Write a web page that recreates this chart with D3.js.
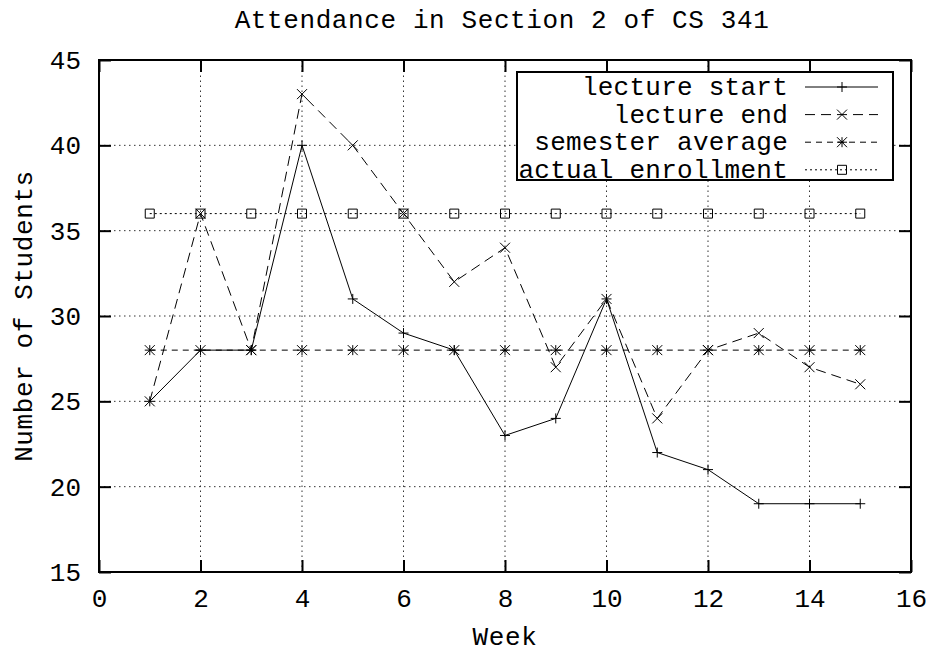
<!DOCTYPE html>
<html>
<head>
<meta charset="utf-8">
<script src="https://cdn.jsdelivr.net/npm/d3@7"></script>
<style>
  html, body { margin: 0; padding: 0; background: #fff; }
  svg { display: block; }
  text { font-family: "Liberation Mono", "DejaVu Sans Mono", monospace; fill: #000; }
  .lbl { letter-spacing: 0.6px; }
  .leg { letter-spacing: 0.25px; }
</style>
</head>
<body>
<div id="chart"></div>
<script>
// ---- data ----
const weeks = [1, 2, 3, 4, 5, 6, 7, 8, 9, 10, 11, 12, 13, 14, 15];
const lectureStart = [25, 28, 28, 40, 31, 29, 28, 23, 24, 31, 22, 21, 19, 19, 19];
const lectureEnd = [25, 36, 28, 43, 40, 36, 32, 34, 27, 31, 24, 28, 29, 27, 26];
const semesterAverage = [28, 28, 28, 28, 28, 28, 28, 28, 28, 28, 28, 28, 28, 28, 28];
const actualEnrollment = [36, 36, 36, 36, 36, 36, 36, 36, 36, 36, 36, 36, 36, 36, 36];
const seriesNames = ["lecture start", "lecture end", "semester average", "actual enrollment"];
const xTicks = [0, 2, 4, 6, 8, 10, 12, 14, 16];
const yTicks = [15, 20, 25, 30, 35, 40, 45];
const titleText = "Attendance in Section 2 of CS 341";
const xLabel = "Week";
const yLabel = "Number of Students";

// ---- layout ----
const W = 926, H = 653;
const L = 99, R = 911, T = 60, B = 572;
const FS = 26;

const svg = d3.select("#chart").append("svg").attr("width", W).attr("height", H);
svg.append("rect").attr("width", W).attr("height", H).attr("fill", "#fff");

const x = d3.scaleLinear().domain([0, 16]).range([L, R]);
const y = d3.scaleLinear().domain([15, 45]).range([B, T]);

// grid
const grid = svg.append("g").attr("stroke", "#333").attr("stroke-width", 1).attr("stroke-dasharray", "1.5,3.5");
grid.selectAll("line.v").data(xTicks.filter(d => d > 0 && d < 16)).join("line")
  .attr("class", "v")
  .attr("x1", d => x(d)).attr("x2", d => x(d)).attr("y1", y(15)).attr("y2", y(45));
grid.selectAll("line.h").data(yTicks.filter(d => d > 15 && d < 45)).join("line")
  .attr("class", "h")
  .attr("y1", d => y(d)).attr("y2", d => y(d)).attr("x1", x(0)).attr("x2", x(16));

// series
const series = [
  { name: seriesNames[0], values: lectureStart, dash: null, marker: "plus" },
  { name: seriesNames[1], values: lectureEnd, dash: "10,6", marker: "cross" },
  { name: seriesNames[2], values: semesterAverage, dash: "6,5", marker: "star" },
  { name: seriesNames[3], values: actualEnrollment, dash: "2,3", marker: "box" }
];

function markerPath(type, cx, cy) {
  const s = 5;
  const p = d3.path();
  if (type === "plus" || type === "star") {
    p.moveTo(cx - s, cy); p.lineTo(cx + s, cy);
    p.moveTo(cx, cy - s); p.lineTo(cx, cy + s);
  }
  if (type === "cross" || type === "star") {
    p.moveTo(cx - s, cy - s); p.lineTo(cx + s, cy + s);
    p.moveTo(cx - s, cy + s); p.lineTo(cx + s, cy - s);
  }
  if (type === "box") {
    const b = 4.5;
    p.rect(cx - b, cy - b, 2 * b, 2 * b);
  }
  return p.toString();
}

const line = d3.line().x(d => x(d[0])).y(d => y(d[1]));
series.forEach(s => {
  const pts = weeks.map((w, i) => [w, s.values[i]]);
  svg.append("path").datum(pts).attr("d", line)
    .attr("fill", "none").attr("stroke", "#000").attr("stroke-width", 1)
    .attr("stroke-dasharray", s.dash);
  svg.append("g").selectAll("path").data(pts).join("path")
    .attr("d", d => markerPath(s.marker, x(d[0]), y(d[1])))
    .attr("fill", "none").attr("stroke", "#000").attr("stroke-width", 1);
});

// axes (ticks inward on all sides)
function styleAxis(g) {
  g.select(".domain").remove();
  g.selectAll(".tick line").attr("stroke", "#000").attr("stroke-width", 2);
  g.selectAll("text").attr("font-size", FS).attr("font-family", null);
}
const xb = svg.append("g").attr("transform", `translate(0,${B})`)
  .call(d3.axisBottom(x).tickValues(xTicks).tickSize(-12).tickSizeOuter(0).tickFormat(d3.format("d")));
styleAxis(xb);
xb.selectAll("text").attr("y", 35).attr("dy", null);
const xt = svg.append("g").attr("transform", `translate(0,${T})`)
  .call(d3.axisTop(x).tickValues(xTicks).tickSize(-12).tickSizeOuter(0).tickFormat(""));
styleAxis(xt);
const yl = svg.append("g").attr("transform", `translate(${L},0)`)
  .call(d3.axisLeft(y).tickValues(yTicks).tickSize(-12).tickSizeOuter(0).tickFormat(d3.format("d")));
styleAxis(yl);
yl.selectAll("text").attr("x", -18).attr("dy", "0.33em");
const yr = svg.append("g").attr("transform", `translate(${R},0)`)
  .call(d3.axisRight(y).tickValues(yTicks).tickSize(-12).tickSizeOuter(0).tickFormat(""));
styleAxis(yr);

// frame
svg.append("rect").attr("x", L).attr("y", T).attr("width", R - L).attr("height", B - T)
  .attr("fill", "none").attr("stroke", "#000").attr("stroke-width", 2);

// legend
const lg = svg.append("g");
lg.append("rect").attr("x", 517).attr("y", 72).attr("width", 376).attr("height", 108)
  .attr("fill", "#fff").attr("stroke", "#000").attr("stroke-width", 2);
series.forEach((s, i) => {
  const cy = 87 + i * 27.6;
  lg.append("text").attr("class", "leg").attr("x", 788).attr("y", cy + 8).attr("text-anchor", "end")
    .attr("font-size", FS).text(s.name);
  lg.append("line").attr("x1", 805).attr("x2", 878).attr("y1", cy).attr("y2", cy)
    .attr("stroke", "#000").attr("stroke-width", 1).attr("stroke-dasharray", s.dash);
  lg.append("path").attr("d", markerPath(s.marker, 842, cy))
    .attr("fill", "none").attr("stroke", "#000").attr("stroke-width", 1);
});

// titles
svg.append("text").attr("class", "lbl").attr("x", 502).attr("y", 28).attr("text-anchor", "middle")
  .attr("font-size", FS).text(titleText);
svg.append("text").attr("class", "lbl").attr("x", 505).attr("y", 645).attr("text-anchor", "middle")
  .attr("font-size", FS).text(xLabel);
svg.append("text").attr("class", "lbl").attr("transform", `translate(32,${(T + B) / 2}) rotate(-90)`)
  .attr("text-anchor", "middle").attr("font-size", FS).text(yLabel);
</script>
</body>
</html>
